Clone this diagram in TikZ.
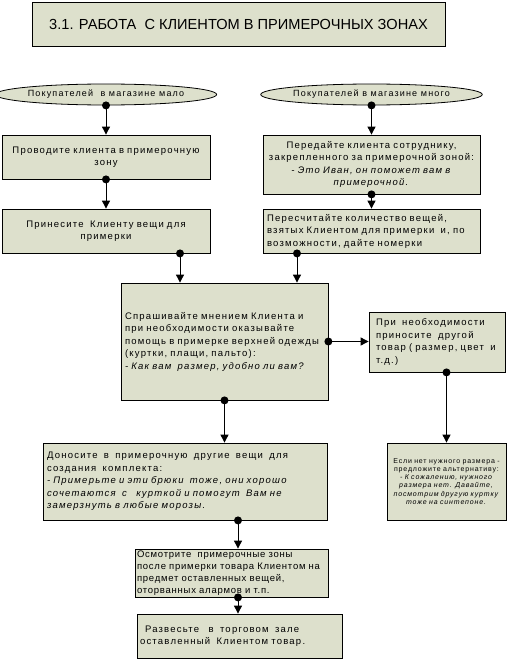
\documentclass[tikz,border=0pt]{standalone}
\usepackage{fontspec}
\setmainfont{Liberation Sans}[LetterSpace=13]
\newfontfamily\titlefont{Liberation Sans}
\newfontfamily\tightfont{Liberation Sans}[LetterSpace=8]
\newfontfamily\smallfont{Liberation Sans}[LetterSpace=12]
\usetikzlibrary{arrows.meta,shapes.geometric}
\definecolor{boxfill}{RGB}{221,224,204}
\begin{document}
\begin{tikzpicture}[x=1pt,y=-1pt,
  box/.style={draw, fill=boxfill, line width=0.8pt, inner xsep=4pt, inner ysep=1pt,
    font=\fontsize{9.5}{12.5}\selectfont},
  ell/.style={draw, fill=boxfill, line width=0.8pt, ellipse, inner sep=0pt,
    font=\fontsize{9}{10}\selectfont},
  conn/.style={line width=0.9pt, -{Triangle[length=8pt,width=8pt]}},
  dotc/.style={fill=black}]
\useasboundingbox (0,0) rectangle (521,669);

% title
\node[box, minimum width=413pt, minimum height=44pt, font=\titlefont\fontsize{14.6}{16}\selectfont]
  (title) at (238.5,24) {3.1. РАБОТА\ \ С КЛИЕНТОМ В ПРИМЕРОЧНЫХ ЗОНАХ};

% ellipses
\node[ell, minimum width=208pt, minimum height=21pt] (e1) at (106,94.5) {Покупателей\ \ в магазине мало};
\node[ell, minimum width=213pt, minimum height=21pt] (e2) at (371.5,94.5) {Покупателей в магазине много};

% first row
\node[box, minimum width=208pt, minimum height=44pt, text width=200pt, align=center]
  (b1L) at (106,157) {Проводите клиента в примерочную\\зону};
\node[box, minimum width=217pt, minimum height=59pt, text width=209pt, align=center]
  (b1R) at (371.5,164.5) {Передайте клиента сотруднику,\\закрепленного за примерочной зоной:\\\textit{- Это Иван, он поможет вам в}\\\textit{примерочной.}};

% second row
\node[box, minimum width=208pt, minimum height=44pt, text width=200pt, align=center]
  (b2L) at (106,231) {Принесите\ \ Клиенту вещи для\\примерки};
\node[box, minimum width=217pt, minimum height=44pt, text width=209pt, align=left, inner xsep=3pt]
  (b2R) at (371.5,231) {Пересчитайте количество вещей,\\взятых Клиентом для примерки\ \ и, по\\возможности, дайте номерки};

% big box
\node[box, minimum width=207pt, minimum height=117pt, text width=199pt, align=left]
  (big) at (224.5,341.5) {Спрашивайте мнением Клиента и\\при необходимости оказывайте\\помощь в примерке верхней одежды\\(куртки, плащи, пальто):\\\textit{- Как вам\ \ размер, удобно ли вам?}};

% right box
\node[box, minimum width=136pt, minimum height=60pt, text width=122pt, inner xsep=7pt, align=left]
  (rb) at (437,342) {При\ \ необходимости\\приносите\ \ другой\\товар ( размер, цвет\ \ и\\т.д.)};

% Доносите
\node[box, minimum width=284pt, minimum height=77pt, text width=276pt, align=left]
  (don) at (185,481.5) {Доносите\ \ в\ \ примерочную\ \ другие\ \ вещи\ \ для\\создания\ \ комплекта:\\\textit{- Примерьте и эти брюки\ \ тоже, они хорошо}\\\textit{сочетаются\ \ с\ \ \ курткой и помогут\ \ Вам не}\\\textit{замерзнуть в любые морозы.}};

% Если
\node[box, minimum width=119pt, minimum height=77pt, text width=117pt, inner xsep=1pt, align=center,
  font=\smallfont\fontsize{7}{8.2}\selectfont]
  (esl) at (446.5,481.5) {Если нет нужного размера -\\предложите альтернативу:\\\textit{- К сожалению, нужного}\\\textit{размера нет. Давайте,}\\\textit{посмотрим другую куртку}\\\textit{тоже на синтепоне.}};

% Осмотрите
\node[box, minimum width=193pt, minimum height=48pt, text width=191pt, inner xsep=1pt, align=left,
  font=\tightfont\fontsize{9.5}{12}\selectfont]
  (osm) at (231.5,573) {\hspace*{1pt}Осмотрите\ \ примерочные зоны\\\hspace*{1pt}после примерки товара Клиентом на\\\hspace*{1pt}предмет оставленных вещей,\\\hspace*{1pt}оторванных алармов и т.п.};

% Развесьте
\node[box, minimum width=205pt, minimum height=44pt, text width=199pt, inner xsep=3pt, align=left]
  (raz) at (239.5,636) {\hspace*{5pt}Развесьте\ \ \ в\ \ торговом\ \ зале\\оставленный\ \ Клиентом товар.};

% connectors
\draw[conn] (e1.south) -- (b1L.north);
\fill[dotc] (e1.south) circle (4pt);
\draw[conn] (e2.south) -- (b1R.north);
\fill[dotc] (e2.south) circle (4pt);
\draw[conn] (b1L.south) -- (b2L.north);
\fill[dotc] (b1L.south) circle (4pt);
\draw[conn] (b1R.south) -- (b2R.north);
\fill[dotc] (b1R.south) circle (4pt);
\draw[conn] ([xshift=74pt]b2L.south) -- ([xshift=74pt]b2L.south |- big.north);
\fill[dotc] ([xshift=74pt]b2L.south) circle (4pt);
\draw[conn] ([xshift=-74.5pt]b2R.south) -- ([xshift=-74.5pt]b2R.south |- big.north);
\fill[dotc] ([xshift=-74.5pt]b2R.south) circle (4pt);
\draw[conn] (big.east) -- (big.east -| rb.west);
\fill[dotc] (big.east) circle (4pt);
\draw[conn] (big.south) -- (big.south |- don.north);
\fill[dotc] (big.south) circle (4pt);
\draw[conn] (rb.south -| esl.north) -- (esl.north);
\fill[dotc] (rb.south -| esl.north) circle (4pt);
\draw[conn] ([xshift=53pt]don.south) -- ([xshift=53pt]don.south |- osm.north);
\fill[dotc] ([xshift=53pt]don.south) circle (4pt);
\draw[conn] ([xshift=6.5pt]osm.south) -- ([xshift=6.5pt]osm.south |- raz.north);
\fill[dotc] ([xshift=6.5pt]osm.south) circle (4pt);
\end{tikzpicture}
\end{document}
